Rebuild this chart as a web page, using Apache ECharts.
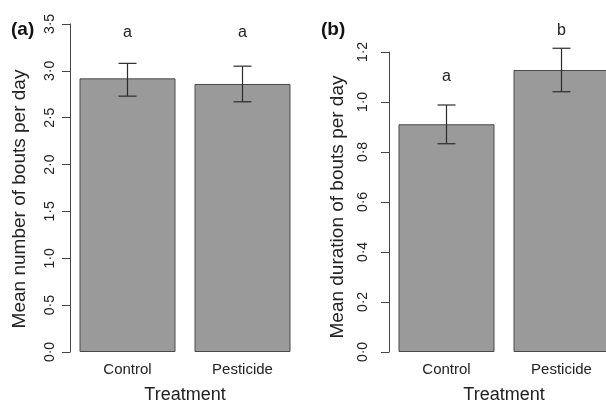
<!DOCTYPE html>
<html>
<head>
<meta charset="utf-8">
<script src="https://cdn.jsdelivr.net/npm/echarts@6/dist/echarts.min.js"></script>
<style>
  html, body { margin: 0; padding: 0; background: #fff; }
  #chart { width: 606px; height: 403px; }
</style>
</head>
<body>
<div id="chart"></div>
<script>
// categories
const treatments = ['Control', 'Pesticide']

// (a) mean number of bouts per day
const boutsMean = [2.92, 2.86]
const boutsLower = [2.73, 2.67]
const boutsUpper = [3.08, 3.05]
const boutsLetters = ['a', 'a']
const boutsLetterY = [3.41, 3.41]

// (b) mean duration of bouts per day
const durationMean = [0.911, 1.128]
const durationLower = [0.833, 1.041]
const durationUpper = [0.988, 1.215]
const durationLetters = ['a', 'b']
const durationLetterY = [1.10, 1.284]

const FONT = 'Liberation Sans, Arial, Helvetica, sans-serif'

const fmt = v => v.toFixed(1).replace('.', '\u00b7')

const chart = echarts.init(document.getElementById('chart'))

// error bars drawn with a custom series
const errorBars = (gridIdx, lower, upper) => ({
    type: 'custom',
    xAxisIndex: gridIdx,
    yAxisIndex: gridIdx,
    clip: false,
    z: 5,
    data: treatments.map((t, i) => [i, lower[i], upper[i]]),
    renderItem: (params, api) => {
        const lo = api.coord([api.value(0), api.value(1)])
        const hi = api.coord([api.value(0), api.value(2)])
        const half = 9
        const style = { stroke: '#2b2b2b', lineWidth: 1.2 }
        return {
            type: 'group',
            children: [
                { type: 'line', shape: { x1: hi[0], y1: hi[1], x2: lo[0], y2: lo[1] }, style },
                { type: 'line', shape: { x1: hi[0] - half, y1: hi[1], x2: hi[0] + half, y2: hi[1] }, style },
                { type: 'line', shape: { x1: lo[0] - half, y1: lo[1], x2: lo[0] + half, y2: lo[1] }, style }
            ]
        }
    }
})

// significance letters
const letterSeries = (gridIdx, letters, ys) => ({
    type: 'custom',
    xAxisIndex: gridIdx,
    yAxisIndex: gridIdx,
    clip: false,
    z: 6,
    data: treatments.map((t, i) => [i, ys[i]]),
    renderItem: (params, api) => {
        const p = api.coord([api.value(0), api.value(1)])
        return {
            type: 'text',
            style: {
                x: p[0], y: p[1],
                text: letters[params.dataIndex],
                fill: '#222',
                font: '16px ' + FONT,
                align: 'center',
                verticalAlign: 'middle'
            }
        }
    }
})

const barSeries = (gridIdx, values) => ({
    type: 'bar',
    xAxisIndex: gridIdx,
    yAxisIndex: gridIdx,
    barWidth: 96,
    itemStyle: {
        color: '#9a9a9a',
        borderColor: '#4a4a4a',
        borderWidth: 1
    },
    data: values
})

const xAxisCommon = {
    type: 'category',
    data: treatments,
    axisLine: { show: false },
    axisTick: { show: false },
    axisLabel: { color: '#222', fontSize: 15, fontFamily: FONT, margin: 10 },
    name: 'Treatment',
    nameLocation: 'middle',
    nameGap: 34,
    nameTextStyle: { color: '#222', fontSize: 18, fontFamily: FONT }
}

const yAxisCommon = {
    type: 'value',
    min: 0,
    splitLine: { show: false },
    axisLine: { show: true, lineStyle: { color: '#444', width: 1 } },
    axisTick: { show: true, length: 8, lineStyle: { color: '#444' } },
    nameLocation: 'middle'
}

const yLabel = margin => ({
    color: '#222', fontSize: 14, fontFamily: FONT, rotate: 90,
    align: 'center', verticalAlign: 'middle', margin: margin, formatter: fmt
})

const option = {
    animation: false,
    backgroundColor: '#fff',
    grid: [
        { left: 70, top: 24, width: 230, height: 328, outerBoundsMode: 'none' },
        { left: 389, top: 52, width: 230, height: 300, outerBoundsMode: 'none' }
    ],
    xAxis: [
        Object.assign({}, xAxisCommon, { gridIndex: 0 }),
        Object.assign({}, xAxisCommon, { gridIndex: 1 })
    ],
    yAxis: [
        Object.assign({}, yAxisCommon, {
            gridIndex: 0, max: 3.5, interval: 0.5,
            axisLabel: yLabel(20),
            name: 'Mean number of bouts per day',
            nameGap: 41,
            nameTextStyle: { color: '#222', fontSize: 19, fontFamily: FONT, padding: [0, 22, 0, 0] }
        }),
        Object.assign({}, yAxisCommon, {
            gridIndex: 1, max: 1.2, interval: 0.2,
            axisLabel: yLabel(26),
            name: 'Mean duration of bouts per day',
            nameGap: 42,
            nameTextStyle: { color: '#222', fontSize: 19, fontFamily: FONT, padding: [0, 10, 0, 0] }
        })
    ],
    graphic: [
        { type: 'text', left: 11, top: 20, style: { text: '(a)', font: 'bold 19px ' + FONT, fill: '#111' } },
        { type: 'text', left: 321, top: 20, style: { text: '(b)', font: 'bold 19px ' + FONT, fill: '#111' } }
    ],
    series: [
        barSeries(0, boutsMean),
        errorBars(0, boutsLower, boutsUpper),
        letterSeries(0, boutsLetters, boutsLetterY),
        barSeries(1, durationMean),
        errorBars(1, durationLower, durationUpper),
        letterSeries(1, durationLetters, durationLetterY)
    ]
}

chart.setOption(option)
</script>
</body>
</html>
